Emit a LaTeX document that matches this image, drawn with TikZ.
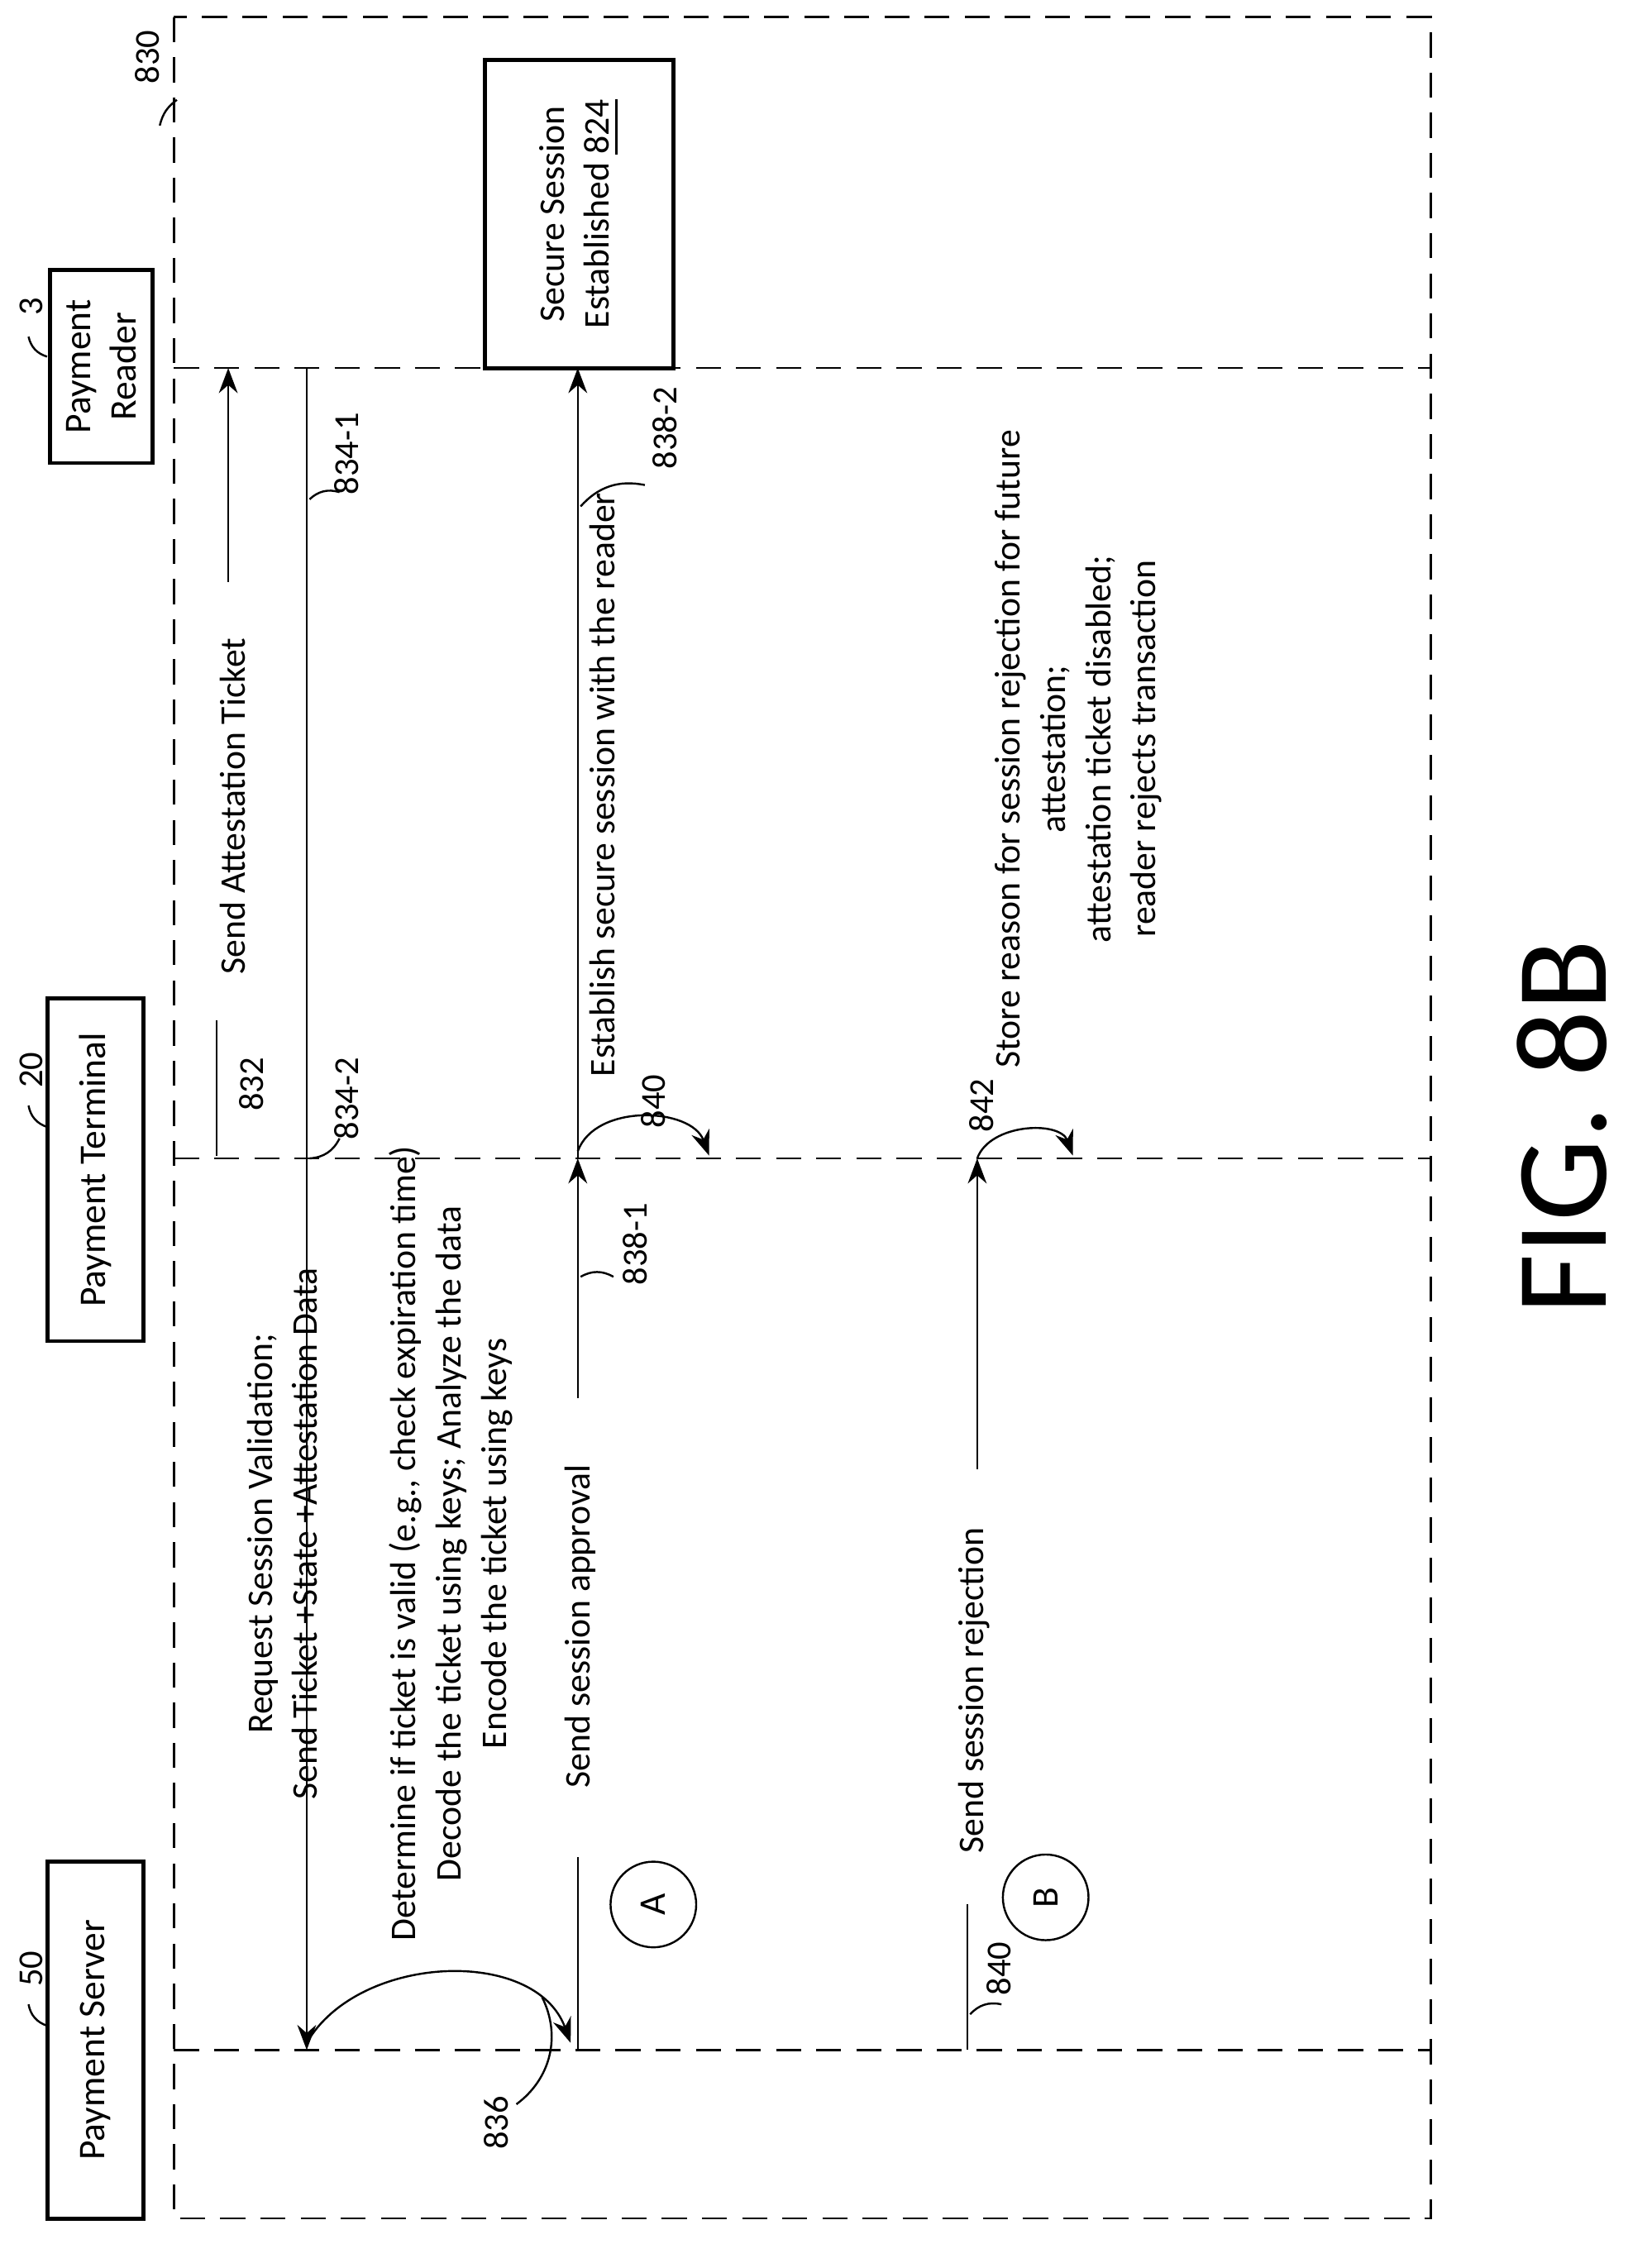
\documentclass[tikz,border=0pt]{standalone}
\usepackage{fontspec}
\setmainfont{Carlito}
\usetikzlibrary{arrows.meta}
\tikzset{
  txt/.style={rotate=90, font=\fontsize{7.2}{9}\selectfont, align=center, inner sep=1pt},
  lbl/.style={rotate=90, font=\fontsize{7}{8}\selectfont, inner sep=1pt},
  actor/.style={draw, thick, rotate=90, minimum height=0.67cm, font=\fontsize{7.5}{9}\selectfont, align=center},
  life/.style={dashed, dash pattern=on 5pt off 3pt},
  msg/.style={-{Stealth[length=5pt]}},
  lead/.style={thin}
}
\begin{document}
\begin{tikzpicture}[x=0.01cm, y=-0.01cm]
   \useasboundingbox (0,0) rectangle (1158,1573);
   % frame
   \draw[life] (122,12) rectangle (1003,1555);
   \node[lbl] (f830) at (103,40) {830};
   \draw[lead] (112,88) to[bend left=20] (124,70);

   % actors
   \node[actor, minimum width=1.35cm] (rdr) at (71,257) {Payment\\Reader};
   \node[actor, minimum width=2.4cm] (term) at (67,820) {Payment Terminal};
   \node[actor, minimum width=2.5cm] (srv) at (67,1430) {Payment Server};
   \node[lbl] (n3) at (22,215) {3};
   \draw[lead] (20,236) to[bend right=30] (33,250);
   \node[lbl] (n20) at (22,750) {20};
   \draw[lead] (20,775) to[bend right=30] (33,790);
   \node[lbl] (n50) at (22,1380) {50};
   \draw[lead] (20,1405) to[bend right=30] (33,1420);

   % lifelines
   \coordinate (r0) at (122,258); \coordinate (r1) at (1003,258);
   \coordinate (t0) at (122,812); \coordinate (t1) at (1003,812);
   \coordinate (s0) at (122,1437); \coordinate (s1) at (1003,1437);
   \draw[life] (r0) -- (r1);
   \draw[life] (t0) -- (t1);
   \draw[life] (s0) -- (s1);

   % secure session
   \node[draw, thick, minimum width=2.16cm, minimum height=1.32cm, txt, inner sep=2pt] (sess) at (406,150) {Secure Session\\Established \underline{824}};

   % 832
   \coordinate (a832) at (160,408); \coordinate (b832) at (160,258);
   \draw[msg] (a832) -- (b832);
   \node[txt] (t832) at (163,565) {Send Attestation Ticket};
   \draw[lead] (152,715) -- (152,810);
   \node[lbl] (n832) at (176,760) {832};

   % 834
   \coordinate (a834) at (215,258); \coordinate (b834) at (215,1437);
   \draw[msg] (a834) -- (b834);
   \node[lbl] (n8341) at (243,318) {834-1};
   \draw[lead] (217,350) to[bend left=30] (238,345);
   \node[lbl] (n8342) at (243,770) {834-2};
   \draw[lead] (217,812) to[bend right=30] (238,798);
   \node[txt] (t834) at (198,1075) {Request Session Validation;\\Send Ticket +State +Attestation Data};

   % 836
   \coordinate (c836) at (400,1432);
   \draw[msg] (215,1432) to[out=60, in=110] (c836);
   \node[lbl] (n836) at (348,1488) {836};
   \draw[lead] (362,1475) to[bend right=40] (380,1400);
   \node[txt] (t836) at (316,1082) {Determine if ticket is valid (e.g., check expiration time)\\Decode the ticket using keys; Analyze the data\\Encode the ticket using keys};

   % 838-1
   \draw (405,1302) -- (405,1437);
   \node[txt] (t838) at (407,1140) {Send session approval};
   \coordinate (a838) at (405,980); \coordinate (b838) at (405,812);
   \draw[msg] (a838) -- (b838);
   \node[lbl] (n8381) at (445,872) {838-1};
   \draw[lead] (407,895) to[bend left=30] (430,895);
   \node[draw, circle, minimum size=0.6cm, font=\fontsize{7.5}{9}\selectfont, rotate=90] (cA) at (458,1335) {A};

   % 838-2
   \coordinate (a8382) at (405,812); \coordinate (b8382) at (405,258);
   \draw[msg] (a8382) -- (b8382);
   \node[txt] (t8382) at (422,550) {Establish secure session with the reader};
   \node[lbl] (n8382) at (466,300) {838-2};
   \draw[lead] (407,355) to[bend left=30] (452,340);

   % 840
   \draw[msg] (405,807) to[out=70, in=110] (497,810);
   \node[lbl] (n840a) at (458,772) {840};

   % rejection
   \draw (678,1335) -- (678,1437);
   \node[txt] (trej) at (683,1185) {Send session rejection};
   \coordinate (arej) at (685,1030); \coordinate (brej) at (685,812);
   \draw[msg] (arej) -- (brej);
   \node[draw, circle, minimum size=0.6cm, font=\fontsize{7.5}{9}\selectfont, rotate=90] (cB) at (733,1330) {B};
   \node[lbl] (n840b) at (700,1380) {840};
   \draw[lead] (680,1412) to[bend left=30] (702,1405);

   % 842
   \draw[msg] (685,812) to[out=70, in=110] (752,810);
   \node[lbl] (n842) at (688,775) {842};
   \node[txt] (t842) at (756,525) {Store reason for session rejection for future\\attestation;\\attestation ticket disabled;\\reader rejects transaction};

   \node[rotate=90, font=\fontsize{26}{28}\selectfont] (fig) at (1095,790) {FIG. 8B};
\end{tikzpicture}
\end{document}
